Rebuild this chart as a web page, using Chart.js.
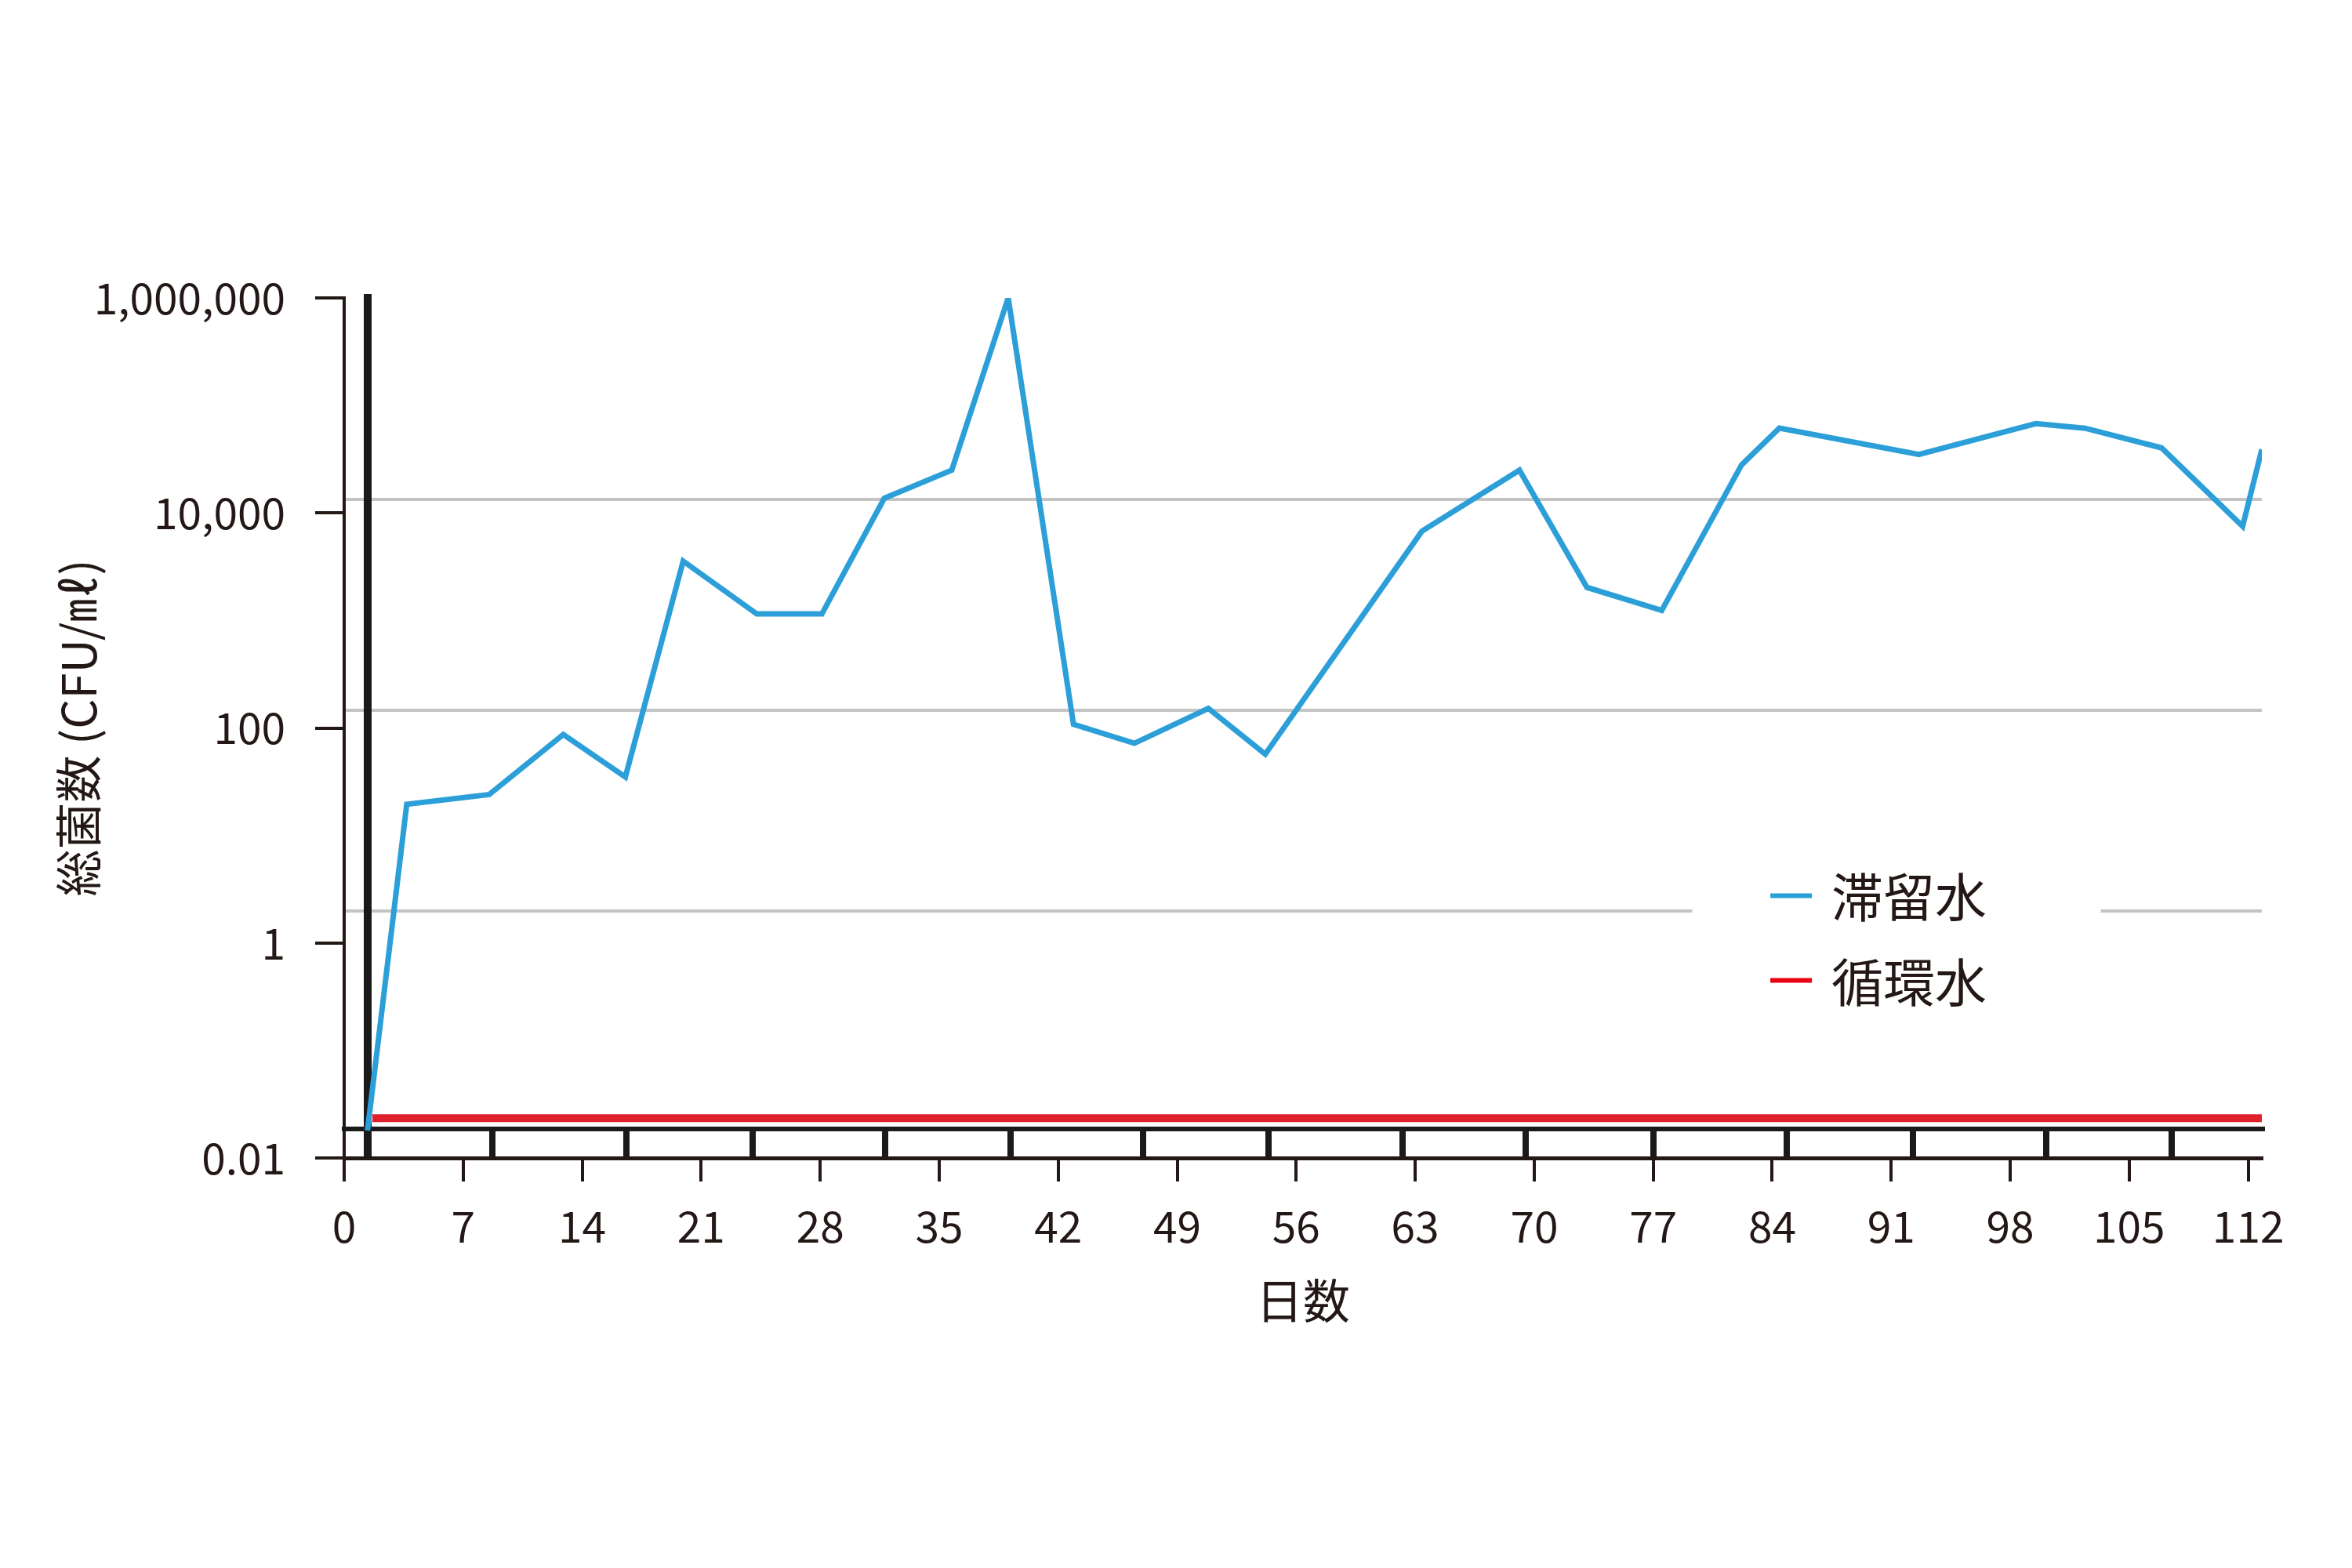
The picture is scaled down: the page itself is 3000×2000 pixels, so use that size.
<!DOCTYPE html>
<html>
<head>
<meta charset="utf-8">
<script src="https://cdn.jsdelivr.net/npm/chart.js@4.4.1/dist/chart.umd.min.js"></script>
<style>
  html, body { margin: 0; padding: 0; background: #ffffff; }
  #wrap { width: 3000px; height: 2000px; }
</style>
</head>
<body>
<div id="wrap"><canvas id="c" width="3000" height="2000"></canvas></div>
<script>
// ---- data ----
const seriesNames = ['滞留水', '循環水'];
const stagnantDays = [1.37, 3.68, 8.53, 12.89, 16.54, 19.94, 24.27, 28.1, 31.77, 35.74, 39.06, 42.9, 46.48, 50.83, 54.18, 63.39, 69.13, 73.1, 77.5, 82.2, 84.42, 92.63, 99.5, 102.4, 106.9, 111.67, 112.8];
const stagnantCfu  = [0.018, 19.5, 24, 87, 35, 3560, 1150, 1150, 13700, 25000, 1000000, 108, 72, 152, 57, 6750, 25000, 2030, 1240, 28000, 61500, 35000, 67800, 61400, 40300, 7500, 39000];
const circulatingDays = [1.66, 112.8];
const circulatingCfu  = [0.0234, 0.0234];

const xTicks = [0, 7, 14, 21, 28, 35, 42, 49, 56, 63, 70, 77, 84, 91, 98, 105, 112];
const yTicks = [0.01, 1, 100, 10000, 1000000];
const yTickLabels = ['0.01', '1', '100', '10,000', '1,000,000'];
const gridValues = [1.98, 146, 13430];               // light horizontal guide lines
const innerTicks = [1.37, 8.71, 16.6, 24.03, 31.82, 39.22, 46.98, 54.39, 62.25, 69.52, 77.0, 84.87, 92.28, 100.1, 107.5];
const innerBaseValue = 0.0185;
const innerLineDay = 1.37;
const xMax = 112.8;

const FONT = "'Noto Sans CJK JP', 'Noto Sans', sans-serif";
const INK = '#231815';
const BLUE = '#2c9fd8';
const RED = '#e0202b';

const pts = (xs, ys) => xs.map((x, i) => ({ x: x, y: ys[i] }));

const legendPlugin = {
  id: 'insideLegend',
  afterDatasetsDraw(chart) {
    const ctx = chart.ctx;
    const a = chart.chartArea;
    const w = a.right - a.left, h = a.bottom - a.top;
    const bx = a.left + w * 0.703, bw = w * 0.213;
    const by = a.top + h * 0.64, bh = h * 0.2;
    ctx.save();
    ctx.fillStyle = '#ffffff';
    ctx.fillRect(bx, by, bw, bh);
    const colors = ['#27a0d9', '#e60012'];
    chart.data.datasets.forEach((ds, i) => {
      const cy = a.top + h * (0.695 + i * 0.0985);
      const lx = a.left + w * 0.7437;
      ctx.strokeStyle = colors[i];
      ctx.lineWidth = 6;
      ctx.beginPath();
      ctx.moveTo(lx, cy);
      ctx.lineTo(lx + 53, cy);
      ctx.stroke();
      ctx.fillStyle = INK;
      ctx.font = "66px " + FONT;
      ctx.textBaseline = 'middle';
      ctx.textAlign = 'left';
      ctx.fillText(ds.label, lx + 78, cy + 2);
    });
    ctx.restore();
  }
};

new Chart(document.getElementById('c'), {
  type: 'line',
  data: {
    datasets: [
      { label: seriesNames[0], data: pts(stagnantDays, stagnantCfu), borderColor: BLUE, borderWidth: 7,
        pointRadius: 0, tension: 0, xAxisID: 'x', yAxisID: 'y' },
      { label: seriesNames[1], data: pts(circulatingDays, circulatingCfu), borderColor: RED, borderWidth: 10,
        pointRadius: 0, tension: 0, xAxisID: 'x', yAxisID: 'y' }
    ]
  },
  options: {
    responsive: false,
    animation: false,
    devicePixelRatio: 1,
    layout: { padding: { left: 60, top: 380, right: 115, bottom: 300 } },
    plugins: { legend: { display: false }, tooltip: { enabled: false } },
    scales: {
      x: {
        type: 'linear', min: 0, max: xMax, position: 'bottom',
        afterBuildTicks: s => { s.ticks = xTicks.map(v => ({ value: v })); },
        afterFit: s => { s.height = 223; },
        grid: { drawOnChartArea: false, tickLength: 30, lineWidth: 4, color: INK },
        border: { width: 5, color: INK },
        ticks: { font: { family: FONT, size: 55 }, color: INK, padding: 24, maxRotation: 0, autoSkip: false },
        title: { display: true, text: '日数', font: { family: FONT, size: 60 }, color: INK, padding: { top: 0, bottom: 5 } }
      },
      y: {
        type: 'logarithmic', min: 0.01, max: 1000000, position: 'left',
        afterBuildTicks: s => { s.ticks = yTicks.map(v => ({ value: v })); },
        afterFit: s => { s.width = 379; },
        grid: { drawOnChartArea: false, tickLength: 37, lineWidth: 4, color: INK },
        border: { width: 4, color: INK },
        ticks: { font: { family: FONT, size: 55 }, color: INK, padding: 38,
                 callback: (v, i) => yTickLabels[i] },
        title: { display: true, text: '総菌数 (CFU/㎖)', font: { family: FONT, size: 60 }, color: INK, padding: { top: 4, bottom: 0 } }
      },
      xi: {
        type: 'linear', min: 0, max: xMax, position: { y: innerBaseValue },
        afterBuildTicks: s => { s.ticks = innerTicks.map(v => ({ value: v })); },
        grid: { drawOnChartArea: false, tickLength: 33, lineWidth: 8, color: '#1a1a1a' },
        border: { width: 6, color: '#1a1a1a' },
        ticks: { display: false }
      },
      yi: {
        type: 'logarithmic', min: 0.01, max: 1000000, position: { x: innerLineDay },
        afterBuildTicks: s => { s.ticks = gridValues.map(v => ({ value: v })); },
        grid: { drawOnChartArea: true, drawTicks: false, lineWidth: 4, color: '#c4c4c4' },
        border: { width: 10, color: '#1a1a1a' },
        ticks: { display: false }
      }
    }
  },
  plugins: [legendPlugin]
});
</script>
</body>
</html>
